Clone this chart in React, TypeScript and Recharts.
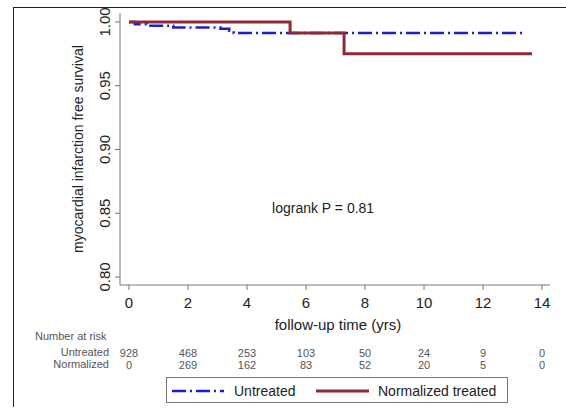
import React from "react";
import { LineChart, Line, XAxis, YAxis, ReferenceDot } from "recharts";

// Kaplan-Meier steps: t = years, s = survival
const untreatedTimes = [0, 0.2, 0.6, 1.5, 3.1, 3.4, 3.55, 13.35];
const untreatedSurv = [1.0, 0.9982, 0.997, 0.9957, 0.9946, 0.993, 0.9914, 0.9914];
const treatedTimes = [0, 5.46, 7.29, 13.66];
const treatedSurv = [1.0, 0.9914, 0.975, 0.975];

const xTicks = [0, 2, 4, 6, 8, 10, 12, 14];
const yTicks = [0.8, 0.85, 0.9, 0.95, 1.0];
const riskUntreated = [928, 468, 253, 103, 50, 24, 9, 0];
const riskNormalized = [0, 269, 162, 83, 52, 20, 5, 0];

const untreatedData = untreatedTimes.map((t, i) => ({ t, s: untreatedSurv[i] }));
const treatedData = treatedTimes.map((t, i) => ({ t, s: treatedSurv[i] }));

const FONT = "Arial, 'Liberation Sans', sans-serif";
const BLUE = "#1c1cd2";
const RED = "#8e2a36";
const BLUE_DASH = "14 4 2 4";

const XTick = (props: any) => {
  const { x, payload, index } = props;
  return (
    <g fontFamily={FONT}>
      <text x={x} y={308} textAnchor="middle" fontSize={15} fill="#222">
        {payload.value}
      </text>
      <text x={x} y={357} textAnchor="middle" fontSize={11} fill="#555">
        {riskUntreated[index]}
      </text>
      <text x={x} y={369} textAnchor="middle" fontSize={11} fill="#555">
        {riskNormalized[index]}
      </text>
    </g>
  );
};

const YTick = (props: any) => {
  const { y, payload } = props;
  return (
    <text
      x={0}
      y={0}
      transform={`translate(110, ${y}) rotate(-90)`}
      textAnchor="middle"
      fontSize={15}
      fontFamily={FONT}
      fill="#222"
    >
      {payload.value.toFixed(2)}
    </text>
  );
};

export default function App() {
  return (
    <div
      style={{
        position: "absolute",
        left: 0,
        top: 0,
        width: 566,
        height: 412,
        background: "#fff",
        fontFamily: FONT,
      }}
    >
      {/* frame remnants */}
      <div
        style={{
          position: "absolute",
          left: 13,
          top: 7,
          width: 553,
          height: 399,
          borderTop: "1.5px solid #222",
          borderLeft: "1.5px solid #222",
        }}
      />
      <LineChart
        width={566}
        height={412}
        margin={{ top: 13, right: 16, left: 0, bottom: 0 }}
        style={{ position: "absolute", left: 0, top: 0 }}
      >
        <XAxis
          type="number"
          dataKey="t"
          domain={[-0.305, 14.27]}
          ticks={xTicks}
          height={127}
          tick={<XTick />}
          tickSize={5}
          stroke="#777"
          interval={0}
          label={{
            content: () => (
              <text x={338} y={330} textAnchor="middle" fontSize={15} fontFamily={FONT} fill="#222">
                follow-up time (yrs)
              </text>
            ),
          }}
        />
        <YAxis
          type="number"
          domain={[0.79375, 1.007]}
          ticks={yTicks}
          width={120}
          tick={<YTick />}
          tickSize={5}
          stroke="#777"
          interval={0}
          allowDataOverflow
          label={{
            content: (p: any) => {
              const vb = p.viewBox || { y: 13, height: 272 };
              const cy = vb.y + vb.height / 2;
              return (
                <text
                  x={0}
                  y={0}
                  transform={`translate(83, ${cy}) rotate(-90)`}
                  textAnchor="middle"
                  fontSize={14}
                  fontFamily={FONT}
                  fill="#222"
                >
                  myocardial infarction free survival
                </text>
              );
            },
          }}
        />
        <Line
          data={untreatedData}
          dataKey="s"
          type="stepAfter"
          stroke={BLUE}
          strokeWidth={2.5}
          strokeDasharray={BLUE_DASH}
          dot={false}
          activeDot={false}
          isAnimationActive={false}
        />
        <Line
          data={treatedData}
          dataKey="s"
          type="stepAfter"
          stroke={RED}
          strokeWidth={3}
          dot={false}
          activeDot={false}
          isAnimationActive={false}
        />
        <ReferenceDot
          x={6.58}
          y={0.854}
          r={0}
          label={{
            value: "logrank P = 0.81",
            position: "center",
            fontSize: 14,
            fontFamily: FONT,
            fill: "#222",
          }}
        />
      </LineChart>

      {/* number at risk labels */}
      <div style={{ position: "absolute", left: 35, top: 330, fontSize: 11, color: "#555", lineHeight: "13px" }}>
        Number at risk
      </div>
      <div
        style={{
          position: "absolute",
          left: 30,
          width: 79,
          top: 346,
          fontSize: 11,
          color: "#555",
          lineHeight: "12px",
          textAlign: "right",
        }}
      >
        <div>Untreated</div>
        <div>Normalized</div>
      </div>

      {/* legend */}
      <div
        style={{
          position: "absolute",
          left: 166,
          top: 377,
          width: 340,
          height: 24,
          border: "1px solid #777",
          background: "#fff",
        }}
      >
        <svg width={340} height={24} style={{ position: "absolute", left: 0, top: 0 }}>
          <line x1={5} x2={57} y1={13} y2={13} stroke={BLUE} strokeWidth={2.5} strokeDasharray={BLUE_DASH} />
          <text x={67} y={18} fontSize={14} fontFamily={FONT} fill="#222">
            Untreated
          </text>
          <line x1={149} x2={202} y1={13} y2={13} stroke={RED} strokeWidth={3} />
          <text x={211} y={18} fontSize={14} fontFamily={FONT} fill="#222">
            Normalized treated
          </text>
        </svg>
      </div>
    </div>
  );
}
